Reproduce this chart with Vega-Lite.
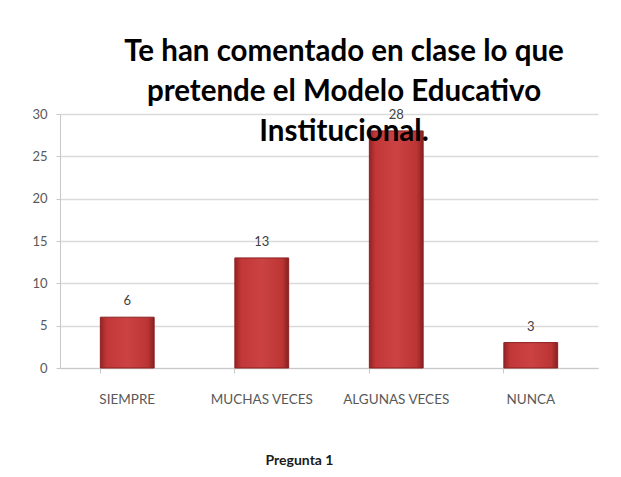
{
  "$schema": "https://vega.github.io/schema/vega-lite/v6.json",
  "width": 538,
  "height": 254,
  "autosize": "none",
  "padding": {"left": 60, "top": 114, "right": 23, "bottom": 109},
  "background": "white",
  "title": {
    "text": ["Te han comentado en clase lo que", "pretende el Modelo Educativo", "Institucional."],
    "font": "Lato",
    "fontSize": 29.5,
    "fontWeight": "bold",
    "color": "black",
    "lineHeight": 40,
    "anchor": "middle",
    "dx": 15,
    "offset": -39
  },
  "data": {
    "values": [
      {"respuesta": "SIEMPRE", "valor": 6},
      {"respuesta": "MUCHAS VECES", "valor": 13},
      {"respuesta": "ALGUNAS VECES", "valor": 28},
      {"respuesta": "NUNCA", "valor": 3}
    ]
  },
  "config": {
    "view": {"stroke": null},
    "axis": {"labelFont": "Lato", "titleFont": "Lato", "labelColor": "#595959", "labelFontSize": 13, "domainColor": "#c8c8c8", "tickColor": "#c8c8c8", "gridColor": "#dadada", "gridWidth": 1.5}
  },
  "encoding": {
    "x": {
      "field": "respuesta",
      "type": "nominal",
      "sort": null,
      "scale": {"paddingInner": 0.6, "paddingOuter": 0.3},
      "axis": {"labelAngle": 0, "labelFontSize": 13.5, "labelPadding": 19, "bandPosition": 0, "tickSize": 5, "title": "Pregunta 1", "titleFontSize": 14, "titleFontWeight": "bold", "titleColor": "#1a1a1a", "titlePadding": 48, "titleX": 239, "grid": false}
    },
    "y": {
      "field": "valor",
      "type": "quantitative",
      "scale": {"domain": [0, 30]},
      "axis": {"values": [0, 5, 10, 15, 20, 25, 30], "title": null, "tickSize": 4, "labelPadding": 9, "grid": true}
    }
  },
  "layer": [
    {
      "mark": {
        "type": "bar",
        "stroke": "#8a2020",
        "strokeWidth": 1,
        "color": {
          "gradient": "linear",
          "x1": 0, "y1": 0, "x2": 1, "y2": 0,
          "stops": [
            {"offset": 0, "color": "#962324"},
            {"offset": 0.12, "color": "#c23838"},
            {"offset": 0.5, "color": "#cc4242"},
            {"offset": 0.88, "color": "#bc3535"},
            {"offset": 1, "color": "#882021"}
          ]
        }
      }
    },
    {
      "mark": {"type": "text", "dy": -16, "font": "Lato", "fontSize": 13, "color": "#404040"},
      "encoding": {"text": {"field": "valor", "type": "quantitative"}}
    }
  ]
}
